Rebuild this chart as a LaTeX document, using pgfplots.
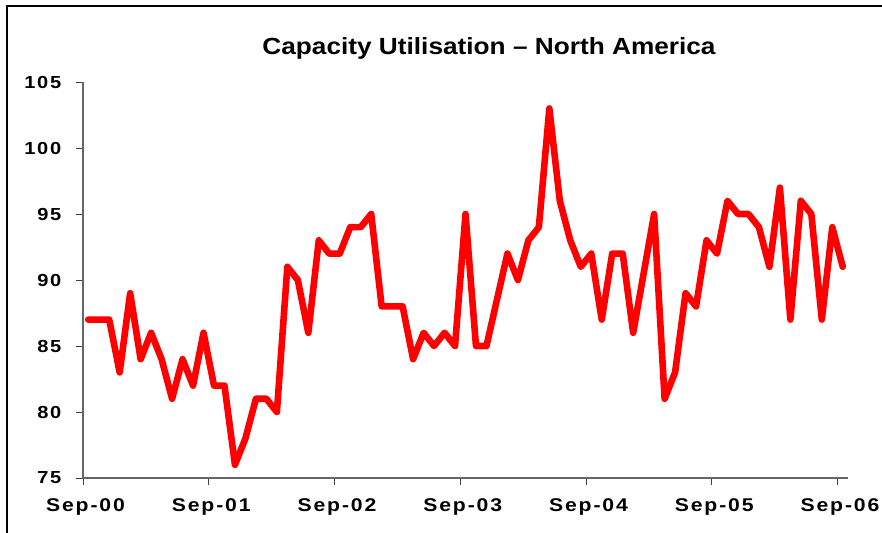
\documentclass[border=0pt]{standalone}
\usepackage{pgfplots}
\pgfplotsset{compat=1.18}
\usepackage{fontspec}
\setmainfont{Liberation Sans}
\newfontfamily\tickfont[LetterSpace=10,FakeStretch=1.15]{Liberation Sans}
\newfontfamily\titlefont[FakeStretch=1.12]{Liberation Sans}
\begin{document}
\begin{tikzpicture}
\useasboundingbox (0,0) rectangle (882bp,533bp);
\fill[white] (0,0) rectangle (882bp,533bp);
\draw[line width=2.3bp] (7bp,0) -- (7bp,527bp) -- (882bp,527bp);
\node[anchor=base, inner sep=0pt, font=\titlefont\bfseries\fontsize{23.5}{28}\selectfont] at (489bp,478bp) {Capacity Utilisation – North America};
\begin{axis}[
  at={(83bp,55bp)}, anchor=south west,
  scale only axis, width=765bp, height=396bp,
  xmin=0, xmax=73, ymin=75, ymax=105,
  axis x line=bottom, axis y line=left,
  axis line style={-, black!60, line width=1.1bp},
  tick align=outside,
  major tick length=6.5bp,
  tick style={black!75, line width=0.9bp},
  xtick={0,12,24,36,48,60,72},
  xticklabels={Sep-00,Sep-01,Sep-02,Sep-03,Sep-04,Sep-05,Sep-06},
  ytick={75,80,85,90,95,100,105},
  yticklabels={75,80,85,90,95,100,105},
  xticklabel style={font=\tickfont\bfseries\fontsize{18.5}{18}\selectfont, anchor=north, inner sep=0pt, yshift=-14bp, xshift=2.5bp},
  yticklabel style={font=\tickfont\bfseries\fontsize{17.5}{18}\selectfont, anchor=east, inner sep=0pt, xshift=-15bp},
  clip=false,
]
\addplot[red, line width=6.6bp, line join=round, line cap=round] coordinates {
(0.5,87) (1.5,87) (2.5,87) (3.5,83) (4.5,89) (5.5,84) (6.5,86) (7.5,84) (8.5,81) (9.5,84)
(10.5,82) (11.5,86) (12.5,82) (13.5,82) (14.5,76) (15.5,78) (16.5,81) (17.5,81) (18.5,80) (19.5,91)
(20.5,90) (21.5,86) (22.5,93) (23.5,92) (24.5,92) (25.5,94) (26.5,94) (27.5,95) (28.5,88) (29.5,88)
(30.5,88) (31.5,84) (32.5,86) (33.5,85) (34.5,86) (35.5,85) (36.5,95) (37.5,85) (38.5,85) (39.5,88.5)
(40.5,92) (41.5,90) (42.5,93) (43.5,94) (44.5,103) (45.5,96) (46.5,93) (47.5,91) (48.5,92) (49.5,87)
(50.5,92) (51.5,92) (52.5,86) (53.5,90.5) (54.5,95) (55.5,81) (56.5,83) (57.5,89) (58.5,88) (59.5,93)
(60.5,92) (61.5,96) (62.5,95) (63.5,95) (64.5,94) (65.5,91) (66.5,97) (67.5,87) (68.5,96) (69.5,95)
(70.5,87) (71.5,94) (72.5,91)
};
\end{axis}
\end{tikzpicture}
\end{document}
